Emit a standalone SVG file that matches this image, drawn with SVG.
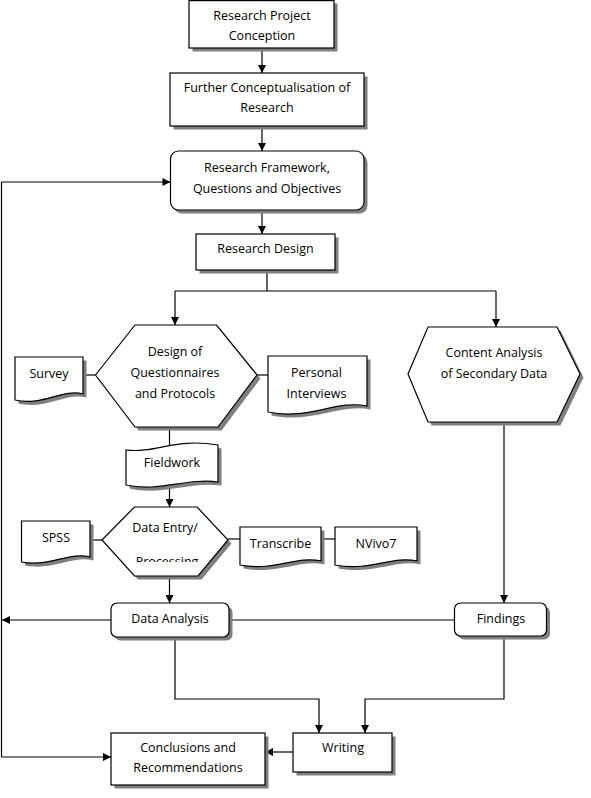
<svg xmlns="http://www.w3.org/2000/svg" width="591" height="798" viewBox="0 0 591 798">
<style>
.sh{fill:#7f7f7f;stroke:none}
.nd{fill:#fff;stroke:#000;stroke-width:1.2}
.t{font-family:"Open Sans","Liberation Sans",sans-serif;font-size:12.5px;fill:#000;text-anchor:middle}
.ln{fill:none;stroke:#000;stroke-width:1.2}
</style>
<defs>
<marker id="ah" viewBox="0 0 10 10" refX="10" refY="5" markerWidth="9" markerHeight="8" markerUnits="userSpaceOnUse" orient="auto">
<path d="M0,0 L10,5 L0,10 Z" fill="#000"/>
</marker>
<clipPath id="clipProc"><rect x="100" y="545" width="130" height="17"/></clipPath>
</defs>
<rect width="591" height="798" fill="#fff"/>

<g id="connectors">
<path class="ln" d="M262,48 V73" marker-end="url(#ah)"/>
<path class="ln" d="M262,126 V151" marker-end="url(#ah)"/>
<path class="ln" d="M262,210 V234" marker-end="url(#ah)"/>
<path class="ln" d="M267,270 V291 M175,291 H496"/>
<path class="ln" d="M175,291 V325" marker-end="url(#ah)"/>
<path class="ln" d="M496,291 V327" marker-end="url(#ah)"/>
<path class="ln" d="M83,375 H95.5"/>
<path class="ln" d="M257,375 H268"/>
<path class="ln" d="M169.5,427 V448"/>
<path class="ln" d="M169.5,484 V507" marker-end="url(#ah)"/>
<path class="ln" d="M90,540 H102"/>
<path class="ln" d="M228,539 H240"/>
<path class="ln" d="M321,539 H335"/>
<path class="ln" d="M169.5,576 V603" marker-end="url(#ah)"/>
<path class="ln" d="M504,422 V603" marker-end="url(#ah)"/>
<path class="ln" d="M229,620 H454.5"/>
<path class="ln" d="M111,620 H2" marker-end="url(#ah)"/>
<path class="ln" d="M1.5,182 V757"/>
<path class="ln" d="M1.5,182 H170.5" marker-end="url(#ah)"/>
<path class="ln" d="M1.5,757 H111" marker-end="url(#ah)"/>
<path class="ln" d="M175,637 V699 H319 V733" marker-end="url(#ah)"/>
<path class="ln" d="M504,636 V699 H365 V733" marker-end="url(#ah)"/>
<path class="ln" d="M293,752 H265" marker-end="url(#ah)"/>
</g>

<g id="n-conception">
<rect class="sh" x="192.5" y="3.5" width="145" height="48"/>
<rect class="nd" x="189" y="0.6" width="145" height="47.4"/>
<text class="t" x="262" y="19.5">Research Project</text>
<text class="t" x="262" y="40">Conception</text>
</g>

<g id="n-further">
<rect class="sh" x="173.5" y="76.5" width="194" height="53"/>
<rect class="nd" x="170" y="73" width="194" height="53"/>
<text class="t" x="267" y="92">Further Conceptualisation of</text>
<text class="t" x="267" y="112">Research</text>
</g>

<g id="n-framework">
<rect class="sh" x="174" y="154.5" width="193.5" height="59" rx="8"/>
<rect class="nd" x="170.5" y="151" width="193.5" height="59" rx="8"/>
<text class="t" x="267" y="171.5">Research Framework,</text>
<text class="t" x="267" y="192.5">Questions and Objectives</text>
</g>

<g id="n-design">
<rect class="sh" x="199.5" y="237.5" width="139" height="36"/>
<rect class="nd" x="196" y="234" width="139" height="36"/>
<text class="t" x="265.5" y="252.5">Research Design</text>
</g>

<g id="n-questionnaires">
<polygon class="sh" points="99,378.5 138.5,328.5 220,328.5 260.5,378.5 221.5,430.5 138.5,430.5"/>
<polygon class="nd" points="95.5,375 135,325 216.5,325 257,375 218,427 135,427"/>
<text class="t" x="175" y="356">Design of</text>
<text class="t" x="175" y="377">Questionnaires</text>
<text class="t" x="175" y="397.5">and Protocols</text>
</g>

<g id="n-survey">
<path class="sh" d="M18.5,360.5 H86.5 V397.5 C66,392 46,410 18.5,403.5 Z"/>
<path class="nd" d="M15,357 H83 V394 C62.5,388.5 42.5,406.5 15,400 Z"/>
<text class="t" x="49" y="377.5">Survey</text>
</g>

<g id="n-interviews">
<path class="sh" d="M271.5,359.5 H370.5 V409.5 C340,403 312,424 271.5,415.5 Z"/>
<path class="nd" d="M268,356 H367 V406 C336.5,399.5 308.5,420.5 268,412 Z"/>
<text class="t" x="316.5" y="377">Personal</text>
<text class="t" x="316.5" y="398">Interviews</text>
</g>

<g id="n-fieldwork">
<path class="sh" d="M129.5,453.5 C160,457 178,441 221.5,448.5 V485.5 C190,481 162,496 129.5,488.5 Z"/>
<path class="nd" d="M126,450 C156.5,453.5 174.5,437.5 218,445 V482 C186.5,477.5 158.5,492.5 126,485 Z"/>
<text class="t" x="172" y="467">Fieldwork</text>
</g>

<g id="n-content">
<polygon class="sh" points="411.5,377.5 431.5,330.5 560.5,330.5 583.5,377.5 560.5,425.5 431.5,425.5"/>
<polygon class="nd" points="408,374 428,327 557,327 580,374 557,422 428,422"/>
<text class="t" x="494" y="356.5">Content Analysis</text>
<text class="t" x="494" y="377.5">of Secondary Data</text>
</g>

<g id="n-spss">
<path class="sh" d="M25,524.5 H93.5 V560.5 C73,555 53,571 25,565.5 Z"/>
<path class="nd" d="M21.5,521 H90 V557 C69.5,551.5 49.5,567.5 21.5,562 Z"/>
<text class="t" x="56" y="541.5">SPSS</text>
</g>

<g id="n-dataentry">
<polygon class="sh" points="105.5,543.5 138,510.5 200.5,510.5 231.5,543.5 201.5,579.5 138,579.5"/>
<polygon class="nd" points="102,540 134.5,507 197,507 228,540 198,576 134.5,576"/>
<text class="t" x="165" y="531.5">Data Entry/</text>
<text class="t" x="167" y="566" clip-path="url(#clipProc)">Processing</text>
</g>

<g id="n-transcribe">
<path class="sh" d="M243.5,530.5 H324.5 V564.5 C300,559 278,575 243.5,568.5 Z"/>
<path class="nd" d="M240,527 H321 V561 C296.5,555.5 274.5,571.5 240,565 Z"/>
<text class="t" x="280.5" y="547.5">Transcribe</text>
</g>

<g id="n-nvivo">
<path class="sh" d="M338.5,530.5 H420.5 V564.5 C396,559 374,575 338.5,568.5 Z"/>
<path class="nd" d="M335,527 H417 V561 C392.5,555.5 370.5,571.5 335,565 Z"/>
<text class="t" x="376" y="547.5">NVivo7</text>
</g>

<g id="n-analysis">
<rect class="sh" x="114.5" y="606.5" width="118" height="34" rx="6"/>
<rect class="nd" x="111" y="603" width="118" height="34" rx="6"/>
<text class="t" x="170" y="622.5">Data Analysis</text>
</g>

<g id="n-findings">
<rect class="sh" x="458" y="606.5" width="92" height="33" rx="6"/>
<rect class="nd" x="454.5" y="603" width="92" height="33" rx="6"/>
<text class="t" x="501" y="622.5">Findings</text>
</g>

<g id="n-writing">
<rect class="sh" x="296.5" y="736.5" width="99" height="39"/>
<rect class="nd" x="293" y="733" width="99" height="39"/>
<text class="t" x="343" y="751.5">Writing</text>
</g>

<g id="n-conclusions">
<rect class="sh" x="114.5" y="736.5" width="154" height="52"/>
<rect class="nd" x="111" y="733" width="154" height="52"/>
<text class="t" x="188" y="751.5">Conclusions and</text>
<text class="t" x="188" y="772">Recommendations</text>
</g>
</svg>
